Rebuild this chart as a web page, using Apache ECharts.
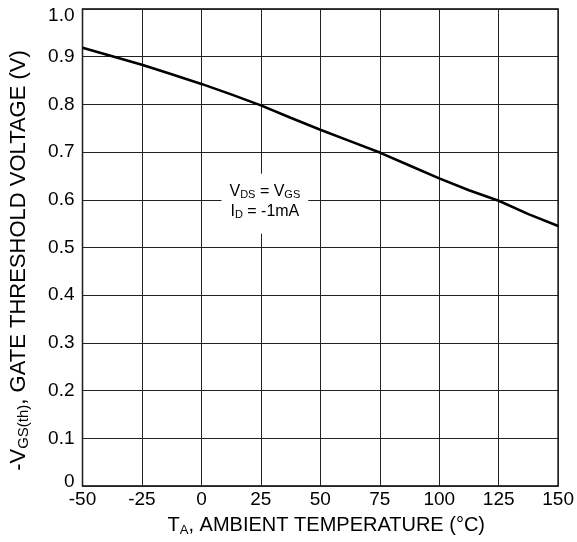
<!DOCTYPE html>
<html>
<head>
<meta charset="utf-8">
<script src="https://cdn.jsdelivr.net/npm/echarts@6/dist/echarts.min.js"></script>
<style>html,body{margin:0;padding:0;background:#fff;}#c{width:577px;height:542px;}</style>
</head>
<body>
<div id="c"></div>
<script>
const temperatures = [-50, -37.5, -25, -12.5, 0, 12.5, 25, 37.5, 50, 62.5, 75, 87.5, 100, 112.5, 125, 137.5, 150];
const thresholdVoltage = [0.919, 0.901, 0.883, 0.863, 0.843, 0.821, 0.798, 0.772, 0.747, 0.723, 0.699, 0.672, 0.645, 0.620, 0.598, 0.570, 0.545];
const xTicks = [-50, -25, 0, 25, 50, 75, 100, 125, 150];
const yTickLabels = ['0', '0.1', '0.2', '0.3', '0.4', '0.5', '0.6', '0.7', '0.8', '0.9', '1.0'];
const annotationPoint = [25, 0.6];

const FONT = '"Liberation Sans", Arial, sans-serif';
const chart = echarts.init(document.getElementById('c'));
const data = temperatures.map((t, i) => [t, thresholdVoltage[i]]);

chart.setOption({
  animation: false,
  backgroundColor: '#fff',
  grid: { left: 80, right: 17, top: 9, bottom: 54, show: true, borderColor: '#000', borderWidth: 1.5, backgroundColor: 'transparent' },
  xAxis: {
    type: 'value', min: -50, max: 150, interval: 25,
    axisLine: { show: false }, axisTick: { show: false },
    splitLine: { show: true, lineStyle: { color: '#222', width: 1 } },
    axisLabel: { color: '#000', fontFamily: FONT, fontSize: 19, margin: 4,
      formatter: v => xTicks.includes(v) ? String(v) : '' },
    name: '{n|T}{s|A}{n|, AMBIENT TEMPERATURE (°C)}',
    nameLocation: 'middle', nameGap: 28,
    nameTextStyle: { padding: [0, 0, 0, 12], rich: {
      n: { fontFamily: FONT, fontSize: 20, color: '#000' },
      s: { fontFamily: FONT, fontSize: 13, color: '#000', padding: [10, 0, 0, 0] }
    } }
  },
  yAxis: {
    type: 'value', min: 0, max: 1, interval: 0.1,
    axisLine: { show: false }, axisTick: { show: false },
    splitLine: { show: true, lineStyle: { color: '#222', width: 1 } },
    axisLabel: { color: '#000', fontFamily: FONT, fontSize: 19, margin: 8,
      formatter: (v) => {
        const idx = Math.round(v * 10);
        const t = yTickLabels[idx];
        if (idx === 10) return '{top|' + t + '}';
        if (idx === 0) return '{bot|' + t + '}';
        return t;
      },
      rich: {
        top: { fontFamily: FONT, fontSize: 19, color: '#000', padding: [14, 0, 0, 0] },
        bot: { fontFamily: FONT, fontSize: 19, color: '#000', padding: [0, 0, 8, 0] }
      }
    },
    name: '{n|-V}{s|GS(th)}{n|, GATE THRESHOLD VOLTAGE (V)}',
    nameLocation: 'middle', nameGap: 51,
    nameTextStyle: { padding: [0, 26, 0, 0], rich: {
      n: { fontFamily: FONT, fontSize: 22, color: '#000' },
      s: { fontFamily: FONT, fontSize: 15, color: '#000', padding: [10, 0, 0, 0] }
    } }
  },
  series: [{
    type: 'line', data: data, showSymbol: false, smooth: false,
    lineStyle: { color: '#000', width: 2.6 }
  }]
});

const p = chart.convertToPixel({ gridIndex: 0 }, annotationPoint);
chart.setOption({
  graphic: [{
    type: 'text', x: p[0] + 4, y: p[1] + 4, z: 100,
    style: {
      text: '{n|V}{s|DS}{n| = V}{s|GS}\n{n|I}{s|D}{n| = -1mA}',
      align: 'center', verticalAlign: 'middle',
      backgroundColor: '#fff', padding: [8, 8, 12, 8],
      rich: {
        n: { fontFamily: FONT, fontSize: 16, color: '#000', lineHeight: 20 },
        s: { fontFamily: FONT, fontSize: 11, color: '#000', padding: [6, 0, 0, 0], lineHeight: 20 }
      }
    }
  }]
});
</script>
</body>
</html>
